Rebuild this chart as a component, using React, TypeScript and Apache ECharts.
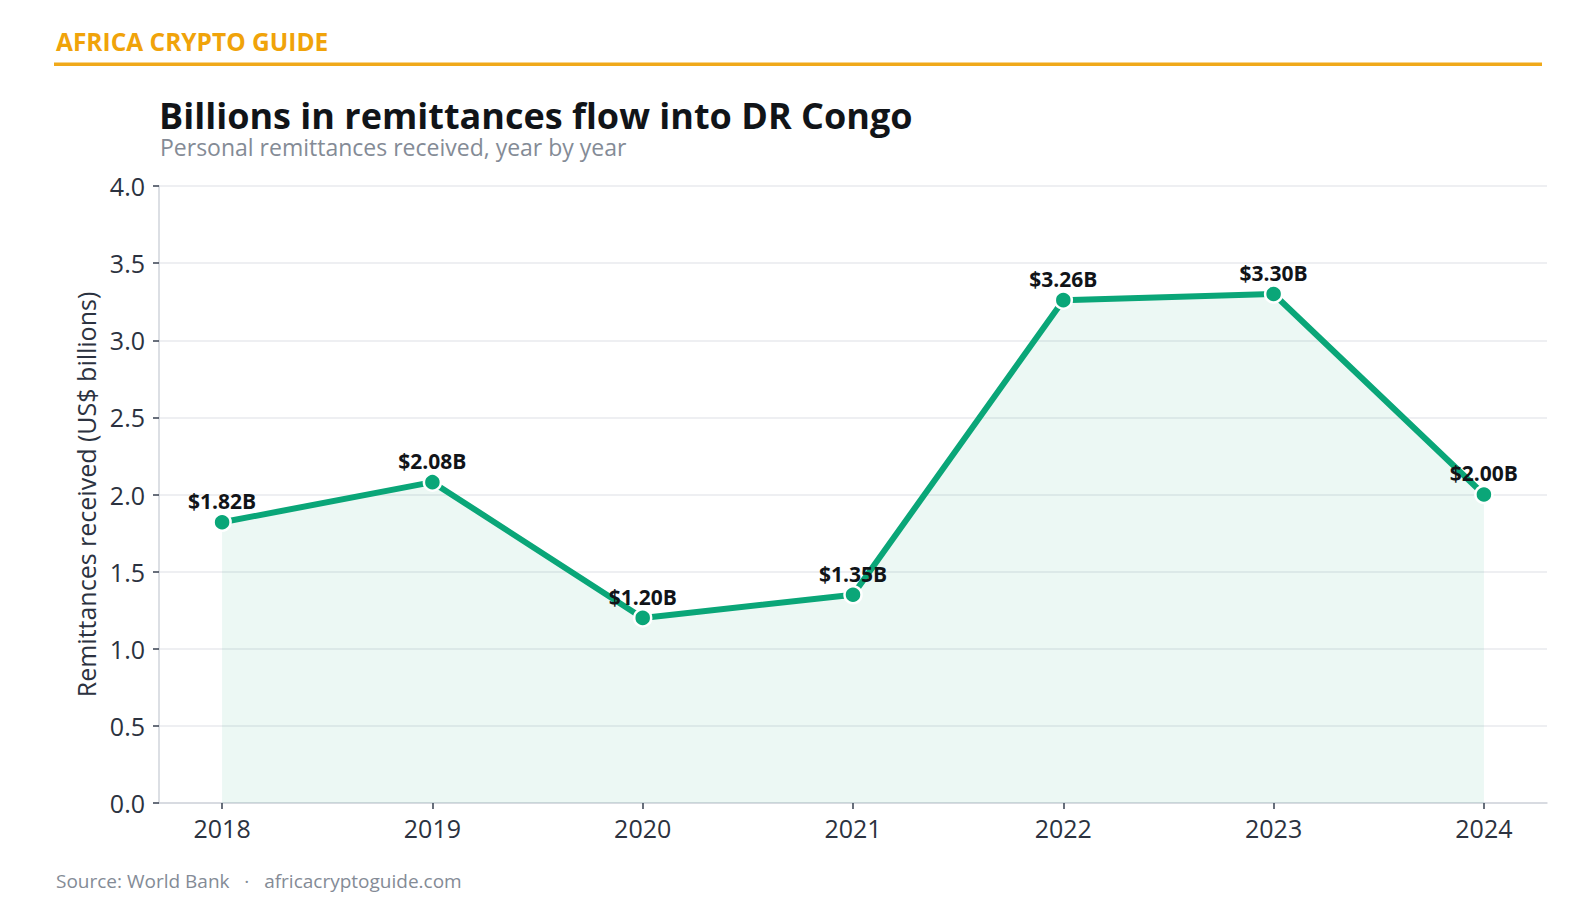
import React, { useEffect, useRef } from "react";
import * as echarts from "echarts";

const years = [2018, 2019, 2020, 2021, 2022, 2023, 2024];
const values = [1.82, 2.08, 1.2, 1.35, 3.26, 3.3, 2.0];
const yTicks = [0, 0.5, 1, 1.5, 2, 2.5, 3, 3.5, 4];

const FONT = '"Open Sans", "Noto Sans", sans-serif';
const GREEN = "#0aa678";

export default function App() {
  const ref = useRef<HTMLDivElement>(null);
  useEffect(() => {
    document.body.style.margin = "0";
    const chart = echarts.init(ref.current!, undefined, { renderer: "svg" });
    chart.setOption({
      animation: false,
      backgroundColor: "#ffffff",
      textStyle: { fontFamily: FONT },
      grid: { left: 159, right: 48, top: 186, bottom: 110, containLabel: false },
      xAxis: {
        type: "value",
        min: 2017.7,
        max: 2024.3,
        splitLine: { show: false },
        axisLine: { show: true, lineStyle: { color: "#d1d5db", width: 1.5 } },
        axisTick: { show: true, customValues: years, length: 6, lineStyle: { color: "#374151", width: 1.5 } },
        axisLabel: {
          customValues: years,
          formatter: (v: number) => String(v),
          fontSize: 25,
          color: "#2b3240",
          margin: 12,
          fontFamily: FONT,
        },
      },
      yAxis: {
        type: "value",
        min: 0,
        max: 4,
        interval: 0.5,
        name: "Remittances received (US$ billions)",
        nameLocation: "middle",
        nameGap: 58,
        nameTextStyle: { fontSize: 25, color: "#2b3240", fontFamily: FONT },
        axisLine: { show: true, lineStyle: { color: "#d1d5db", width: 1.5 } },
        axisTick: { show: true, length: 6, lineStyle: { color: "#374151", width: 1.5 } },
        axisLabel: {
          fontSize: 25,
          color: "#2b3240",
          margin: 14,
          fontFamily: FONT,
          formatter: (v: number) => v.toFixed(1),
        },
        splitLine: { show: true, lineStyle: { color: "#e8eaee", width: 1.5 } },
      },
      series: [
        {
          type: "line",
          data: years.map((y, i) => [y, values[i]]),
          lineStyle: { color: GREEN, width: 6 },
          itemStyle: { color: GREEN, borderColor: "#ffffff", borderWidth: 2.5 },
          symbol: "circle",
          symbolSize: 17,
          areaStyle: { color: "rgba(10,166,120,0.11)" },
          label: {
            show: true,
            position: "top",
            distance: 1,
            formatter: (p: any) => "$" + p.value[1].toFixed(2) + "B",
            fontSize: 21,
            fontWeight: "bold",
            color: "#111418",
            fontFamily: FONT,
          },
          z: 3,
        },
      ],
      graphic: [
        {
          type: "text",
          x: 56,
          y: 41,
          style: { text: "AFRICA CRYPTO GUIDE", font: `bold 24.5px ${FONT}`, fill: "#f0a30a", verticalAlign: "middle" },
        },
        {
          type: "rect",
          shape: { x: 54, y: 62.5, width: 1488, height: 3.5 },
          style: { fill: "#f0a91a" },
        },
        {
          type: "text",
          x: 159,
          y: 115,
          style: {
            text: "Billions in remittances flow into DR Congo",
            font: `bold 36px ${FONT}`,
            lineHeight: 36,
            fill: "#111418",
            verticalAlign: "middle",
          },
        },
        {
          type: "text",
          x: 160,
          y: 147,
          style: {
            text: "Personal remittances received, year by year",
            font: `23px ${FONT}`,
            lineHeight: 23,
            fill: "#848b96",
            verticalAlign: "middle",
          },
        },
        {
          type: "text",
          x: 56,
          y: 881,
          style: {
            text: "Source: World Bank   ·   africacryptoguide.com",
            font: `19px ${FONT}`,
            fill: "#848b96",
            verticalAlign: "middle",
          },
        },
      ],
    });
    return () => chart.dispose();
  }, []);
  return <div ref={ref} style={{ position: "absolute", left: 0, top: 0, width: 1595, height: 913 }} />;
}
